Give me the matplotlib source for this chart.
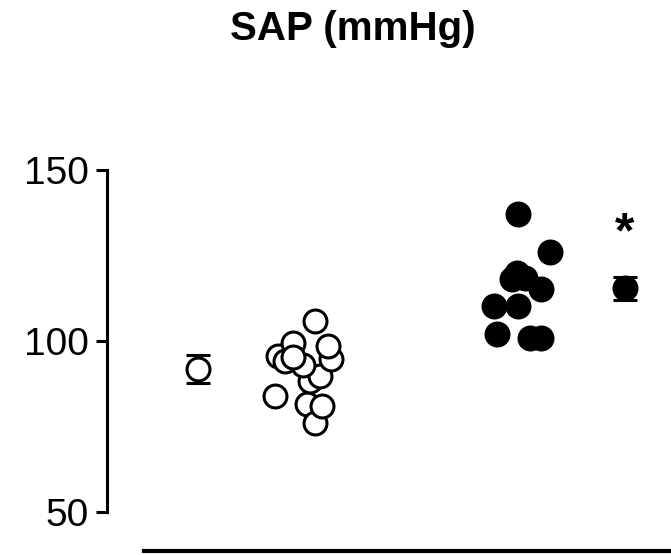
import numpy as np
import matplotlib.pyplot as plt

plt.rcParams['font.family'] = ['Liberation Sans', 'DejaVu Sans']

# group positions on the x axis
pos_mean_ctrl = 1
pos_ctrl = 2
pos_treat = 4
pos_mean_treat = 5

# individual values (open circles = control, filled = treated)
ctrl_vals = [81.5, 83.8, 76.1, 81.0, 88.2, 89.7, 92.9, 95.5, 94.1, 94.6,
             98.4, 99.5, 105.8, 95.2]
ctrl_jitter = [0.02, -0.28, 0.096, 0.16, 0.05, 0.14, -0.02, -0.25, -0.185, 0.25,
               0.22, -0.11, 0.096, -0.11]

treat_vals = [137.0, 126.0, 120.0, 118.0, 118.5, 115.1, 110.2, 110.2, 102.0, 101.0, 101.0]
treat_jitter = [0.0, 0.30, -0.01, -0.06, 0.065, 0.21, -0.23, 0.0, -0.20, 0.11, 0.21]

# mean +/- sem shown beside each group
ctrl_mean, ctrl_sem = 91.7, 4.1
treat_mean, treat_sem = 115.4, 3.3

y_ticks = [50, 100, 150]

fig = plt.figure(figsize=(6.71, 5.55), dpi=100)
ax = fig.add_axes([107 / 671, 4 / 555, 1 - 107 / 671, (551 - 170) / 555])

ms = 16.5
lw = 2.2
ax.scatter(pos_ctrl + np.array(ctrl_jitter), ctrl_vals, s=ms ** 2, facecolor='white',
           edgecolor='black', linewidth=lw, zorder=3, clip_on=False)
ax.scatter(pos_treat + np.array(treat_jitter), treat_vals, s=ms ** 2, facecolor='black',
           edgecolor='black', linewidth=lw, zorder=3, clip_on=False)

ax.errorbar([pos_mean_ctrl], [ctrl_mean], yerr=[ctrl_sem], fmt='o', ms=ms,
            mfc='white', mec='black', mew=lw, ecolor='black', elinewidth=lw,
            capsize=8.3, capthick=lw, zorder=3)
ax.errorbar([pos_mean_treat], [treat_mean], yerr=[treat_sem], fmt='o', ms=ms,
            mfc='black', mec='black', mew=lw, ecolor='black', elinewidth=lw,
            capsize=8.3, capthick=lw, zorder=3)

# significance mark
ax.text(pos_mean_treat, 127.3, '*', ha='center', va='baseline', fontsize=36,
        fontweight='bold')

ax.set_xlim(0.147, 5.433)
ax.set_ylim(38.6, 150)
ax.set_yticks(y_ticks)
ax.tick_params(axis='y', labelsize=28, length=8, width=lw, pad=5)
ax.set_xticks([])

for side in ['top', 'right']:
    ax.spines[side].set_visible(False)
ax.spines['left'].set_linewidth(lw)
ax.spines['left'].set_bounds(50, 150)
ax.spines['bottom'].set_linewidth(3)
ax.spines['bottom'].set_bounds(0.494, 5.433)

fig.text(353 / 671, 1 - 39.5 / 555, 'SAP (mmHg)', ha='center', va='baseline',
         fontsize=29, fontweight='bold')

fig.savefig('out.png', dpi=100)
